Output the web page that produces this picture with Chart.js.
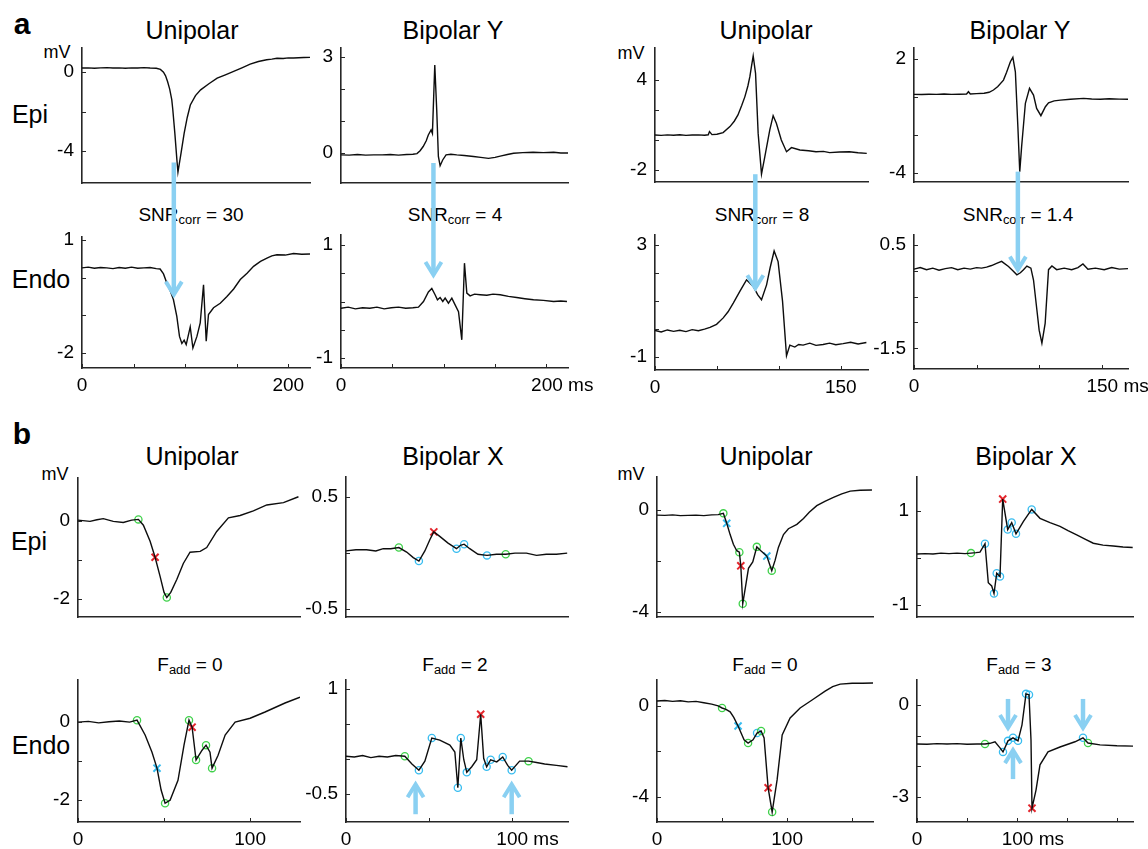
<!DOCTYPE html>
<html>
<head>
<meta charset="utf-8">
<script src="https://cdn.jsdelivr.net/npm/chart.js@4.4.1/dist/chart.umd.min.js"></script>
<style>
  body { margin: 0; background: #fff; width: 1148px; height: 849px; position: relative; overflow: hidden;
         font-family: "Liberation Sans", Arial, Helvetica, sans-serif; color: #000; }
  canvas { position: absolute; }
  .lbl { position: absolute; white-space: nowrap; transform: translate(-50%, -50%); line-height: 1; }
  .lbl sub { font-size: 0.68em; vertical-align: -0.3em; line-height: 0; }
</style>
</head>
<body>
<script>
// ---------- panel a : Epi row ----------
const aEpi1T = [0,6,12,18,24,30,36,42,48,54, 60,66,72,76,79,81,83,85,87,88, 90,92,93,96,99,102,105,110,115,123,
  131,139,147,155,163,171,179,184,189,195, 200,205,210,215,221];
const aEpi1V = [0.19,0.2,0.18,0.2,0.21,0.19,0.2,0.18,0.2,0.19, 0.21,0.19,0.18,0.12,-0.02,-0.2,-0.5,-0.87,-1.4,-1.9,
  -3.1,-4.45,-5.05,-4.1,-3.1,-2.3,-1.67,-1.2,-0.91,-0.6, -0.32,-0.15,0.02,0.2,0.39,0.52,0.61,0.64,0.68,0.67,
  0.7,0.7,0.71,0.72,0.73];

const aEpi2T = [0,8,16,24,32,40,48,56,64,70, 74,77,80,83,85,87.7,89,91.3,93.2,94.8, 96.5,99,102.3,107,112.7,120,129,136,143.6,150,
  155,162,168,177,187,197,207,214,221];
const aEpi2V = [-0.06,-0.07,-0.05,-0.07,-0.06,-0.06,-0.05,-0.07,-0.05,-0.04, -0.02,0.07,0.2,0.38,0.56,0.72,0.61,2.75,1.34,-0.11,
  -0.4,-0.22,-0.06,-0.04,-0.06,-0.08,-0.11,-0.14,-0.17,-0.14, -0.1,-0.05,-0.01,0.01,0.02,0.01,0.02,0.0,0.0];

const aEpi3T = [0,5,10,15,20,25,30,35,40,43, 44,46,50,55,60.5,64,67,70,72.6,75, 76.6,78,79.3,81.2,83.3,86,88.7,92.7,95.4,98,
  102,106.2,110.2,117,124,130,136,141,149,157, 164,171];
const aEpi3V = [0.33,0.31,0.34,0.32,0.35,0.31,0.33,0.34,0.32,0.35, 0.56,0.36,0.38,0.49,0.89,1.25,1.67,2.3,2.89,3.6,
  4.22,4.95,5.6,4.44,0.44,-2.27,-1.11,0.67,1.62,1.11, 0.0,-0.78,-0.51,-0.67,-0.72,-0.78,-0.76,-0.84,-0.8,-0.78, -0.85,-0.89];

const aEpi4T = [0,6,12,18,24,30,36,42,43.5,45, 50,56,60,63.5,67,71.5,74,77,79,81, 83,84.5,86,89,92.3,95.5,98,101.4,105,107.5,
  112,117,125,135.5,142,149,156,164,171];
const aEpi4V = [0.14,0.13,0.15,0.14,0.16,0.14,0.15,0.16,0.28,0.16, 0.18,0.2,0.25,0.37,0.55,0.89,1.3,1.86,2.09,1.33,
  -1.56,-3.93,-2.61,-0.33,0.46,0.1,-0.6,-0.98,-0.51,-0.3, -0.2,-0.16,-0.12,-0.07,-0.1,-0.12,-0.09,-0.11,-0.12];

// ---------- panel a : Endo row ----------
const aEndo1T = [0,6,12,18,24,30,36,42,48,54, 60,66,72,75.7,79,82.2,85.5,88.6,91.9,94.5, 96.8,99,101,104.9,107.5,111.4,114.6,117.8,120.4,122.6,
  127.5,134,140.5,147,153.4,160,166.3,173,179.3,184, 189,197,205,213,221];
const aEndo1V = [0.26,0.28,0.25,0.27,0.26,0.24,0.27,0.25,0.28,0.25, 0.26,0.27,0.24,0.23,0.1,-0.14,-0.35,-0.58,-1.03,-1.56,
  -1.75,-1.66,-1.78,-1.31,-1.87,-1.56,-1.2,-0.19,-1.69,-0.98, -0.8,-0.68,-0.5,-0.3,-0.05,0.12,0.3,0.43,0.52,0.58,
  0.61,0.6,0.64,0.62,0.63];

const aEndo2T = [0,7,14,21,28,35,42,49,56,63, 70,75.4,80.3,85.1,88.4,91.6,93.9,96.5,99.1,101.4, 104.6,107.9,111.1,114.4,117.6,120.2,122.5,125.7,130,135.5,
  142,148,155,163,171,179,187.4,197,207,214, 220];
const aEndo2V = [-0.12,-0.1,-0.13,-0.11,-0.12,-0.1,-0.13,-0.11,-0.1,-0.12, -0.11,-0.1,0.0,0.17,0.23,0.12,0.03,0.07,0.0,0.06,
  -0.03,0.06,-0.06,-0.18,-0.68,0.68,0.15,0.1,0.13,0.12, 0.11,0.13,0.12,0.09,0.07,0.05,0.03,0.02,0.0,0.01, 0.0];

const aEndo3T = [0,5,10,15,20,25,30,35,40,44.4, 49.7,55.1,59,63.2,68.5,73.9,79.3,83,86,90.1, 93,96.2,99.4,103,106.2,108.9,112.9,116,119.6,125,
  130,135.7,141,146,151.9,158,164,170.7];
const aEndo3V = [-0.05,-0.1,-0.03,-0.08,-0.04,-0.09,-0.02,-0.06,0.0,0.06, 0.17,0.4,0.62,0.93,1.35,1.76,1.52,1.22,1.05,1.58,
  2.2,2.79,2.41,0.99,-0.95,-0.57,-0.64,-0.55,-0.57,-0.5, -0.58,-0.55,-0.5,-0.56,-0.52,-0.47,-0.53,-0.48];

const aEndo4T = [0,5,10,15,20,25,30,35,40,45, 50,54,58,62,66,70,75.5,79,82.2,85, 87.5,90.2,93.4,95.5,98.2,100,102.2,104.8,107.5,110.2,
  114,120,126,131,135,139,145,152,158,164, 171];
const aEndo4V = [0.03,0.06,0.02,0.05,0.01,0.04,0.06,0.02,0.05,0.03, 0.06,0.05,0.07,0.1,0.14,0.18,0.08,0.0,-0.08,-0.04,
  0.02,0.09,0.05,-0.18,-0.76,-1.15,-1.4,-1.02,0.02,0.09, 0.02,0.05,0.02,0.06,0.13,0.03,0.05,0.02,0.06,0.03, 0.04];

// arrows of panel a (time, tip value on the Endo trace)
const aArrowT = [89, 90, 81, 83];
const aArrowTip = [-0.45, 0.47, 1.46, 0.02];

// ---------- panel b : Epi row ----------
const bEpi1T = [0,7,11,14.7,20.5,26.3,31.2,35.1,38,41.9, 44.8,47.7,50,51.6,53.9,57.4,61.2,65.1,71,74.8, 80.6,87.4,94.2,101.9,109.7,119.4,128.1];
const bEpi1V = [0.01,-0.02,0.02,0.05,-0.02,-0.05,0.01,0.03,-0.12,-0.53, -0.94,-1.43,-1.84,-1.97,-1.84,-1.51,-1.1,-0.81,-0.79,-0.69,
  -0.28,0.07,0.13,0.25,0.4,0.46,0.61];
const bEpi1GreenT = [35.1, 51.6], bEpi1GreenV = [0.03, -1.97];
const bEpi1RedT = [44.8], bEpi1RedV = [-0.94];

const bEpi2T = [0,6,12.4,18,22.5,27,31.9,36.6,40.6,44, 47.6,50.6,53,56.6,61.6,66.7,69.1,71.3,74.7,79.7, 85.1,90.8,96.4,102,108.9,115,120.9,127,133.5];
const bEpi2V = [0.02,0.03,0.03,0.02,0.04,0.04,0.05,0.01,-0.04,-0.07, 0.02,0.12,0.19,0.15,0.09,0.04,0.07,0.08,0.04,-0.01,
  -0.02,-0.01,-0.01,0.0,0.0,-0.02,-0.01,-0.01,0.0];
const bEpi2GreenT = [31.9, 96.4], bEpi2GreenV = [0.05, -0.01];
const bEpi2CyanT = [44, 66.7, 71.3, 85.1], bEpi2CyanV = [-0.07, 0.04, 0.08, -0.02];
const bEpi2RedT = [53], bEpi2RedV = [0.19];

const bEpi3T = [0,6,12,18,24,30,36,42,47,51, 53.6,56.2,58.7,61.3,63.3,64.4,65.9,68.5,70.3,73.6, 76.7,79.8,84.4,88.2,90.8,93.3,97.2,101,107.5,112.6,
  117,122.8,129,135.6,142,148.5,156,165.2];
const bEpi3V = [-0.21,-0.22,-0.2,-0.23,-0.22,-0.21,-0.23,-0.2,-0.19,-0.14, -0.53,-0.97,-1.35,-1.6,-1.66,-2.19,-3.67,-2.86,-2.29,-2.04,
  -1.45,-1.6,-1.81,-2.38,-1.97,-1.47,-0.97,-0.74,-0.57,-0.34, -0.1,0.16,0.33,0.48,0.62,0.73,0.76,0.77];
const bEpi3GreenT = [51, 63.3, 65.9, 76.7, 88.2], bEpi3GreenV = [-0.14, -1.66, -3.67, -1.45, -2.38];
const bEpi3CyanXT = [53.6, 84.4], bEpi3CyanXV = [-0.53, -1.81];
const bEpi3RedT = [64.4], bEpi3RedV = [-2.19];

const bEpi4T = [0,8,16,24,32,40,48,54,59,63, 68,71.3,74.7,77,79.7,83,85.7,90.7,94.7,99, 106.3,114.7,123,133,143,151,159.7,168,176.3,186,
  196.3,206,215.7];
const bEpi4V = [0.08,0.09,0.08,0.1,0.09,0.1,0.09,0.1,0.11,0.12, 0.3,-0.53,-0.6,-0.76,-0.33,-0.4,1.25,0.6,0.75,0.51,
  0.77,1.03,0.84,0.75,0.67,0.58,0.49,0.4,0.31,0.27, 0.25,0.23,0.22];
const bEpi4GreenT = [54], bEpi4GreenV = [0.1];
const bEpi4CyanT = [68, 77, 79.7, 83, 90.7, 94.7, 99, 114.7], bEpi4CyanV = [0.3, -0.76, -0.33, -0.4, 0.6, 0.75, 0.51, 1.03];
const bEpi4RedT = [85.7], bEpi4RedV = [1.25];

// ---------- panel b : Endo row ----------
const bEndo1T = [0,6,12,18,24,30,34.3,39,43,45.9, 48.3,50.6,53.5,58.1,61.6,64.5,66.3,68.6,72.1,74.4, 76.7,77.9,81.4,85.5,91.3,100,108.7,120.3,129];
const bEndo1V = [0,0.02,-0.02,0.01,0.03,0.0,0.05,-0.33,-0.77,-1.18, -1.74,-2.08,-2.0,-1.49,-0.59,0.05,-0.13,-0.97,-0.72,-0.59,
  -0.77,-1.18,-0.85,-0.33,0.0,0.1,0.26,0.49,0.64];
const bEndo1GreenT = [34.3, 50.6, 64.5, 68.6, 74.4, 77.9], bEndo1GreenV = [0.05, -2.08, 0.05, -0.97, -0.59, -1.18];
const bEndo1CyanXT = [45.9], bEndo1CyanXV = [-1.18];
const bEndo1RedT = [66.3], bEndo1RedV = [-0.13];

const bEndo2T = [0,5,10,15,20,25,30,35.5,39.8,44, 47.6,51.8,56.6,62.7,65.7,67.5,69.3,71.1,72.9,75.9, 78.9,81.3,83.1,84.9,87.3,91,94.6,97.6,100,104.8,
  110.2,115,119.9,127,133.7];
const bEndo2V = [0.04,0.03,0.05,0.02,0.04,0.03,0.05,0.04,-0.07,-0.16, -0.03,0.3,0.27,0.2,0.1,-0.41,0.3,-0.01,-0.19,-0.11,
  -0.01,0.64,0.01,-0.11,-0.01,-0.04,0.03,-0.09,-0.16,-0.03, -0.03,-0.05,-0.07,-0.09,-0.11];
const bEndo2GreenT = [35.5, 110.2], bEndo2GreenV = [0.04, -0.03];
const bEndo2CyanT = [44, 51.8, 67.5, 69.3, 72.9, 84.9, 87.3, 94.6, 100], bEndo2CyanV = [-0.16, 0.3, -0.41, 0.3, -0.19, -0.11, -0.01, 0.03, -0.16];
const bEndo2RedT = [81.3], bEndo2RedV = [0.64];
const bArrow2T = [42, 100], bArrow2Tip = [-0.36, -0.36];

const bEndo3T = [0,6,12,18,24,30,36,42,47,50, 53,56.2,59,62.3,66.9,70,73.8,76.9,80,82.3, 85.4,88.5,92.3,96.2,102.3,110,119.2,129.2,135,140.8,
  150,158,166];
const bEndo3V = [0.22,0.24,0.2,0.23,0.18,0.2,0.14,0.08,0.0,-0.09, -0.15,-0.26,-0.5,-0.88,-1.49,-1.63,-1.49,-1.19,-1.1,-1.41,
  -3.6,-4.66,-3.25,-1.27,-0.53,-0.09,0.26,0.65,0.85,0.96, 1.0,1.0,1.01];
const bEndo3GreenT = [50, 70, 80, 88.5], bEndo3GreenV = [-0.09, -1.63, -1.1, -4.66];
const bEndo3CyanT = [76.9], bEndo3CyanV = [-1.19];
const bEndo3CyanXT = [62.3], bEndo3CyanXV = [-0.88];
const bEndo3RedT = [85.4], bEndo3RedV = [-3.6];

const bEndo4T = [0,10,20,30,40,50,60,68,73,78, 83,86,91,96,101,105,109,112,114,115, 119,123,131,143,158,166,171,183,200,216];
const bEndo4V = [-1.27,-1.28,-1.26,-1.27,-1.26,-1.28,-1.27,-1.27,-1.25,-1.2, -1.4,-1.53,-1.17,-1.07,-1.17,-0.65,0.36,0.33,-1.14,-3.36,
  -2.77,-1.95,-1.53,-1.37,-1.2,-1.07,-1.24,-1.3,-1.33,-1.34];
const bEndo4GreenT = [68, 171], bEndo4GreenV = [-1.27, -1.24];
const bEndo4CyanT = [86, 91, 96, 101, 109, 112, 166], bEndo4CyanV = [-1.53, -1.17, -1.07, -1.17, 0.36, 0.33, -1.07];
const bEndo4RedT = [115], bEndo4RedV = [-3.36];
const bArrow4T = [91, 96, 166], bArrow4Tip = [-0.75, -1.47, -0.75], bArrow4Up = [false, true, false];

// ---------- tick values and labels ----------
const aEpi1Ticks = [-4, -2, 0], aEpi1Labels = ['-4', '', '0'];
const aEpi2Ticks = [0, 1, 2, 3], aEpi2Labels = ['0', '', '', '3'];
const aEpi3Ticks = [-2, 0, 2, 4], aEpi3Labels = ['-2', '', '', '4'];
const aEpi4Ticks = [-4, -2, 0, 2], aEpi4Labels = ['-4', '', '', '2'];
const aEndo1Ticks = [-2, -1, 0, 1], aEndo1Labels = ['-2', '', '', '1'];
const aEndo2Ticks = [-1, -0.5, 0, 0.5, 1], aEndo2Labels = ['-1', '', '', '', '1'];
const aEndo3Ticks = [-1, 0, 1, 2, 3], aEndo3Labels = ['-1', '', '', '', '3'];
const aEndo4Ticks = [-1.5, -1, -0.5, 0, 0.5], aEndo4Labels = ['-1.5', '', '', '', '0.5'];
const bEpi1Ticks = [-2, -1, 0], bEpi1Labels = ['-2', '', '0'];
const bEpi2Ticks = [-0.5, 0, 0.5], bEpi2Labels = ['-0.5', '', '0.5'];
const bEpi3Ticks = [-4, -2, 0], bEpi3Labels = ['-4', '', '0'];
const bEpi4Ticks = [-1, 0, 1], bEpi4Labels = ['-1', '', '1'];
const bEndo1Ticks = [-2, -1, 0], bEndo1Labels = ['-2', '', '0'];
const bEndo2Ticks = [-0.5, 0, 0.5, 1], bEndo2Labels = ['-0.5', '', '', '1'];
const bEndo3Ticks = [-4, -2, 0], bEndo3Labels = ['-4', '', '0'];
const bEndo4Ticks = [-3, -2, -1, 0], bEndo4Labels = ['-3', '', '', '0'];

// leading spaces keep the number centred on its tick, " ms" hangs to the right
const aXTicks12 = [0, 50, 100, 150, 200];
const aXLabels1 = ['0', '', '', '', '200'];
const aXLabels2 = ['0', '', '', '', '      200 ms'];
const aXTicks34 = [0, 50, 100, 150];
const aXLabels3 = ['0', '', '', '150'];
const aXLabels4 = ['0', '', '', '      150 ms'];
const bXTicks12 = [0, 50, 100];
const bXLabels1 = ['0', '', '100'];
const bXLabels2 = ['0', '', '      100 ms'];
const bXTicks3 = [0, 50, 100, 150];
const bXLabels3 = ['0', '', '100', ''];
const bXTicks4 = [0, 50, 100, 150, 200];
const bXLabels4 = ['0', '', '      100 ms', '', ''];

// ---------- texts ----------
const aTitles = ['Unipolar', 'Bipolar Y', 'Unipolar', 'Bipolar Y'];
const bTitles = ['Unipolar', 'Bipolar X', 'Unipolar', 'Bipolar X'];
const snrValues = ['30', '4', '8', '1.4'];
const faddValues = ['0', '2', '0', '3'];

// ---------- styles ----------
const FONT = '"Liberation Sans", Arial, Helvetica, sans-serif';
const INK = '#0d0d0d';
const AXIS = '#262626';
const GREEN = '#3fd14a';
const CYAN = '#38bdf0';
const RED = '#e3242b';
const ARROW = '#8ad0f2';
const Y_W = 60, PAD_R = 50, PAD_T = 12;

function pts(t, v) {
  return t.map((x, i) => ({ x: x, y: v[i] }));
}

function marks(t, v, color, style) {
  const circ = style === 'circle';
  return {
    data: pts(t, v), showLine: false, pointStyle: style,
    pointRadius: circ ? 3.6 : 5, pointBorderWidth: circ ? 1.3 : 2,
    pointBorderColor: color, pointBackgroundColor: 'rgba(0,0,0,0)',
    borderColor: color, backgroundColor: 'rgba(0,0,0,0)'
  };
}

// MATLAB style ticks pointing into the axes box
const innerTicks = {
  id: 'innerTicks',
  afterDraw(chart) {
    const ctx = chart.ctx, a = chart.chartArea;
    const xs = chart.scales.x, ys = chart.scales.y;
    ctx.save();
    ctx.strokeStyle = AXIS;
    ctx.lineWidth = 1;
    ys.ticks.forEach(t => {
      const py = Math.round(ys.getPixelForValue(t.value)) + 0.5;
      ctx.beginPath(); ctx.moveTo(a.left, py); ctx.lineTo(a.left + 4, py); ctx.stroke();
    });
    xs.ticks.forEach(t => {
      const px = Math.round(xs.getPixelForValue(t.value)) + 0.5;
      ctx.beginPath(); ctx.moveTo(px, a.bottom); ctx.lineTo(px, a.bottom - 4); ctx.stroke();
    });
    ctx.restore();
  }
};

function arrowPlugin(list) {
  return {
    id: 'arrows',
    afterDraw(chart) {
      const ctx = chart.ctx;
      list.forEach(a => {
        const x = chart.scales.x.getPixelForValue(a.t);
        const tip = chart.scales.y.getPixelForValue(a.v);
        const dir = a.up ? -1 : 1;
        ctx.save();
        ctx.strokeStyle = ARROW;
        ctx.lineWidth = 4.5;
        ctx.beginPath(); ctx.moveTo(x, tip - dir * a.len); ctx.lineTo(x, tip - dir * 2); ctx.stroke();
        ctx.lineWidth = 4;
        ctx.lineJoin = 'miter';
        ctx.beginPath();
        ctx.moveTo(x - 8, tip - dir * 13); ctx.lineTo(x, tip); ctx.lineTo(x + 8, tip - dir * 13);
        ctx.stroke();
        ctx.restore();
      });
    }
  };
}

function arrows(t, tip, len, up) {
  return t.map((x, i) => ({ t: x, v: tip[i], len: Array.isArray(len) ? len[i] : len, up: up ? up[i] : false }));
}

// ---------- layout of the 16 axes ----------
const panels = [
  { L: 82, R: 310, T: 48, B: 183, xMax: 221, yMin: -5.6, yMax: 1.2, t: aEpi1T, v: aEpi1V, yt: aEpi1Ticks, yl: aEpi1Labels },
  { L: 341, R: 568, T: 48, B: 183, xMax: 221, yMin: -0.94, yMax: 3.28, t: aEpi2T, v: aEpi2V, yt: aEpi2Ticks, yl: aEpi2Labels },
  { L: 655, R: 868, T: 48, B: 182, xMax: 172, yMin: -2.8, yMax: 6.13, t: aEpi3T, v: aEpi3V, yt: aEpi3Ticks, yl: aEpi3Labels },
  { L: 914, R: 1128, T: 48, B: 182, xMax: 171, yMin: -4.47, yMax: 2.58, t: aEpi4T, v: aEpi4V, yt: aEpi4Ticks, yl: aEpi4Labels },

  { L: 82, R: 310, T: 237, B: 368, cTop: 160, xMax: 221, yMin: -2.4, yMax: 1.08, t: aEndo1T, v: aEndo1V,
    yt: aEndo1Ticks, yl: aEndo1Labels, xt: aXTicks12, xl: aXLabels1, arrows: arrows([aArrowT[0]], [aArrowTip[0]], 132) },
  { L: 341, R: 568, T: 235, B: 368, cTop: 160, xMax: 221, yMin: -1.18, yMax: 1.18, t: aEndo2T, v: aEndo2V,
    yt: aEndo2Ticks, yl: aEndo2Labels, xt: aXTicks12, xl: aXLabels2, arrows: arrows([aArrowT[1]], [aArrowTip[1]], 112) },
  { L: 655, R: 868, T: 235, B: 370, cTop: 160, xMax: 172, yMin: -1.46, yMax: 3.36, t: aEndo3T, v: aEndo3V,
    yt: aEndo3Ticks, yl: aEndo3Labels, xt: aXTicks34, xl: aXLabels3, arrows: arrows([aArrowT[2]], [aArrowTip[2]], 114) },
  { L: 914, R: 1128, T: 235, B: 369, cTop: 160, xMax: 171, yMin: -1.9, yMax: 0.69, t: aEndo4T, v: aEndo4V,
    yt: aEndo4Ticks, yl: aEndo4Labels, xt: aXTicks34, xl: aXLabels4, arrows: arrows([aArrowT[3]], [aArrowTip[3]], 98) },

  { L: 78, R: 300, T: 478, B: 622, xMax: 129, yMin: -2.47, yMax: 1.09, t: bEpi1T, v: bEpi1V, yt: bEpi1Ticks, yl: bEpi1Labels,
    marks: [marks(bEpi1GreenT, bEpi1GreenV, GREEN, 'circle'), marks(bEpi1RedT, bEpi1RedV, RED, 'crossRot')] },
  { L: 346, R: 568, T: 477, B: 622, xMax: 134, yMin: -0.57, yMax: 0.68, t: bEpi2T, v: bEpi2V, yt: bEpi2Ticks, yl: bEpi2Labels,
    marks: [marks(bEpi2GreenT, bEpi2GreenV, GREEN, 'circle'), marks(bEpi2CyanT, bEpi2CyanV, CYAN, 'circle'),
            marks(bEpi2RedT, bEpi2RedV, RED, 'crossRot')] },
  { L: 657, R: 873, T: 477, B: 622, xMax: 166, yMin: -4.19, yMax: 1.28, t: bEpi3T, v: bEpi3V, yt: bEpi3Ticks, yl: bEpi3Labels,
    marks: [marks(bEpi3GreenT, bEpi3GreenV, GREEN, 'circle'), marks(bEpi3CyanXT, bEpi3CyanXV, CYAN, 'crossRot'),
            marks(bEpi3RedT, bEpi3RedV, RED, 'crossRot')] },
  { L: 917, R: 1133, T: 477, B: 622, xMax: 216, yMin: -1.26, yMax: 1.72, t: bEpi4T, v: bEpi4V, yt: bEpi4Ticks, yl: bEpi4Labels,
    marks: [marks(bEpi4GreenT, bEpi4GreenV, GREEN, 'circle'), marks(bEpi4CyanT, bEpi4CyanV, CYAN, 'circle'),
            marks(bEpi4RedT, bEpi4RedV, RED, 'crossRot')] },

  { L: 78, R: 300, T: 680, B: 822, xMax: 129, yMin: -2.56, yMax: 1.08, t: bEndo1T, v: bEndo1V, yt: bEndo1Ticks, yl: bEndo1Labels,
    xt: bXTicks12, xl: bXLabels1,
    marks: [marks(bEndo1GreenT, bEndo1GreenV, GREEN, 'circle'), marks(bEndo1CyanXT, bEndo1CyanXV, CYAN, 'crossRot'),
            marks(bEndo1RedT, bEndo1RedV, RED, 'crossRot')] },
  { L: 346, R: 568, T: 680, B: 822, xMax: 134, yMin: -0.9, yMax: 1.13, t: bEndo2T, v: bEndo2V, yt: bEndo2Ticks, yl: bEndo2Labels,
    xt: bXTicks12, xl: bXLabels2, arrows: arrows(bArrow2T, bArrow2Tip, 30, [true, true]),
    marks: [marks(bEndo2GreenT, bEndo2GreenV, GREEN, 'circle'), marks(bEndo2CyanT, bEndo2CyanV, CYAN, 'circle'),
            marks(bEndo2RedT, bEndo2RedV, RED, 'crossRot')] },
  { L: 657, R: 873, T: 680, B: 822, xMax: 166, yMin: -5.1, yMax: 1.14, t: bEndo3T, v: bEndo3V, yt: bEndo3Ticks, yl: bEndo3Labels,
    xt: bXTicks3, xl: bXLabels3,
    marks: [marks(bEndo3GreenT, bEndo3GreenV, GREEN, 'circle'), marks(bEndo3CyanT, bEndo3CyanV, CYAN, 'circle'),
            marks(bEndo3CyanXT, bEndo3CyanXV, CYAN, 'crossRot'), marks(bEndo3RedT, bEndo3RedV, RED, 'crossRot')] },
  { L: 917, R: 1133, T: 680, B: 822, xMax: 216, yMin: -3.81, yMax: 0.81, t: bEndo4T, v: bEndo4V, yt: bEndo4Ticks, yl: bEndo4Labels,
    xt: bXTicks4, xl: bXLabels4, arrows: arrows(bArrow4T, bArrow4Tip, 29, bArrow4Up),
    marks: [marks(bEndo4GreenT, bEndo4GreenV, GREEN, 'circle'), marks(bEndo4CyanT, bEndo4CyanV, CYAN, 'circle'),
            marks(bEndo4RedT, bEndo4RedV, RED, 'crossRot')] }
];

// ---------- text labels (drawn first, so arrows sit on top) ----------
function addText(html, x, y, size, weight) {
  const d = document.createElement('div');
  d.className = 'lbl';
  d.innerHTML = html;
  d.style.left = x + 'px';
  d.style.top = y + 'px';
  d.style.fontSize = size + 'px';
  if (weight) d.style.fontWeight = weight;
  document.body.appendChild(d);
}

const colX = [192, 453, 766, 1020];
addText('a', 22, 24, 30, 'bold');
addText('b', 22, 434, 30, 'bold');
aTitles.forEach((s, i) => addText(s, colX[i], 30, 25));
bTitles.forEach((s, i) => addText(s, colX[i] + (i === 3 ? 6 : 0), 456, 25));
snrValues.forEach((s, i) => addText('SNR<sub>corr</sub> = ' + s, [191, 455, 762, 1018][i], 214, 19));
faddValues.forEach((s, i) => addText('F<sub>add</sub> = ' + s, [190, 455, 765, 1019][i], 664, 19));
addText('Epi', 30, 114, 25);
addText('Endo', 41, 279, 25);
addText('Epi', 29, 541, 25);
addText('Endo', 41, 745, 25);
addText('mV', 57, 52, 18);
addText('mV', 631, 53, 18);
addText('mV', 55, 474, 18);
addText('mV', 631, 474, 18);

// ---------- charts ----------
panels.forEach(p => {
  const bottomRow = !!p.xt;
  const xH = bottomRow ? 30 : 2;
  const cTop = p.cTop !== undefined ? p.cTop : p.T - PAD_T;
  const cv = document.createElement('canvas');
  const w = p.R - p.L + Y_W + PAD_R;
  const h = p.B - cTop + xH;
  cv.width = w; cv.height = h;
  cv.style.left = (p.L - Y_W) + 'px';
  cv.style.top = cTop + 'px';
  cv.style.width = w + 'px';
  cv.style.height = h + 'px';
  document.body.appendChild(cv);

  const datasets = [{
    data: pts(p.t, p.v), borderColor: INK, borderWidth: 1.4, pointRadius: 0, tension: 0, fill: false
  }].concat(p.marks || []);

  new Chart(cv, {
    type: 'line',
    data: { datasets: datasets },
    options: {
      responsive: false, animation: false, devicePixelRatio: 1, events: [],
      layout: { padding: { top: p.T - cTop, right: PAD_R, left: 0, bottom: 0 } },
      plugins: { legend: { display: false }, tooltip: { enabled: false } },
      scales: {
        x: {
          type: 'linear', min: 0, max: p.xMax,
          border: { display: true, color: AXIS, width: 1.6 },
          grid: { display: false, drawTicks: false },
          afterBuildTicks: s => { s.ticks = (p.xt || []).map(v => ({ value: v })); },
          ticks: {
            display: bottomRow, padding: 6, color: '#000', autoSkip: false, maxRotation: 0,
            font: { family: FONT, size: 19 },
            callback: (v, i) => (p.xl ? p.xl[i] : '')
          },
          // fixed box; no extra margin for label overhang
          afterFit: s => { s.height = xH; s.paddingLeft = 0; s.paddingRight = 0; }
        },
        y: {
          type: 'linear', min: p.yMin, max: p.yMax,
          border: { display: true, color: AXIS, width: 1.6 },
          grid: { display: false, drawTicks: false },
          afterBuildTicks: s => { s.ticks = p.yt.map(v => ({ value: v })); },
          ticks: {
            padding: 8, color: '#000', autoSkip: false,
            font: { family: FONT, size: 19 },
            callback: (v, i) => p.yl[i]
          },
          afterFit: s => { s.width = Y_W; s.paddingTop = 0; s.paddingBottom = 0; }
        }
      }
    },
    plugins: [innerTicks, arrowPlugin(p.arrows || [])]
  });
});
</script>
</body>
</html>
